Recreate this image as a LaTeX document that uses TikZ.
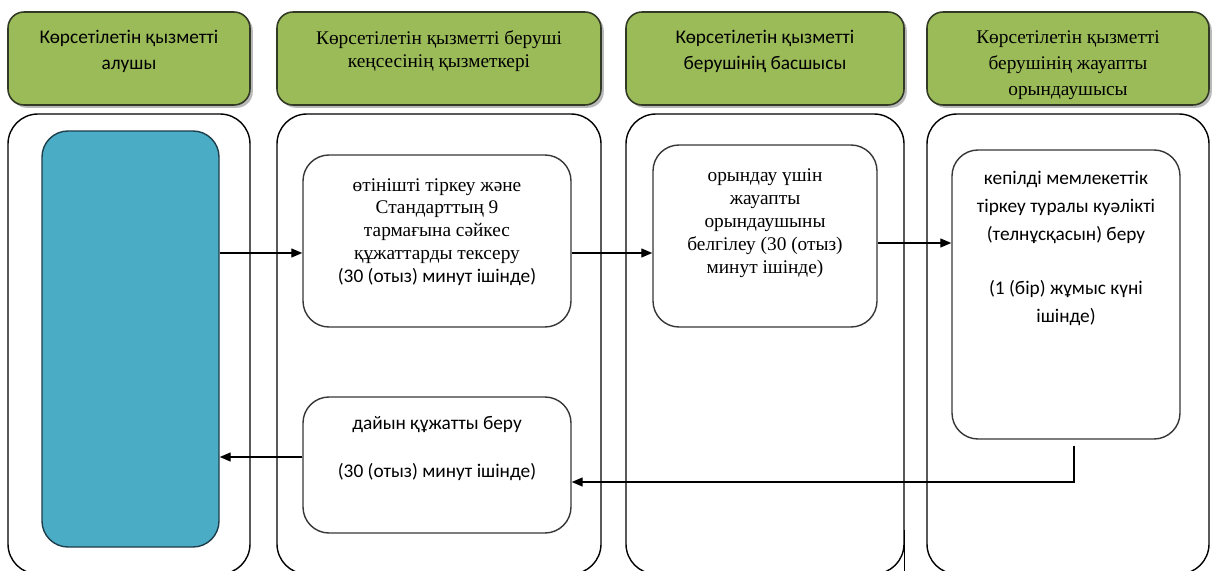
\documentclass[tikz,border=0pt]{standalone}
\usepackage{fontspec}
\setmainfont{Liberation Serif}
\newfontfamily\calfont{Carlito}
\usepackage{tikz}
\usetikzlibrary{arrows.meta, positioning, calc, shadows}
\definecolor{hdrgreen}{RGB}{155, 187, 89}
\definecolor{hdrline}{RGB}{50, 58, 38}
\definecolor{clientblue}{RGB}{75, 172, 198}
\definecolor{clientline}{RGB}{30, 62, 75}
\definecolor{boxline}{RGB}{55, 55, 55}
\newlength{\px}
\setlength{\px}{0.02cm}

\begin{document}
\begin{tikzpicture}[x=0.02cm, y=-0.02cm,
      hdr/.style={rectangle, rounded corners=16\px,
                  fill=hdrgreen, draw=hdrline, line width=0.9pt,
                  drop shadow={shadow xshift=1.6pt,
                  shadow yshift=-1.6pt, opacity=0.55},
                  inner sep=0pt},
      lane/.style={rectangle, rounded corners=30\px,
                   draw=black, line width=0.8pt, inner sep=0pt},
      stepbox/.style={rectangle, rounded corners=26\px, fill=white,
                      draw=boxline, line width=0.8pt, inner sep=0pt},
      txt/.style={align=center, inner sep=0pt, anchor=north},
      sans/.style={font=\calfont\fontsize{11}{#1}\selectfont},
      serif/.style={font=\fontsize{11}{#1}\selectfont},
      flow/.style={-{Triangle[length=0.22cm, width=0.18cm]},
                   line width=0.75pt},
  ]
  \clip (0,0) rectangle (1214,571);

  % lanes
  \node[lane, minimum width=242\px, minimum height=460\px]
      (lane1) at (129, 344) {};
  \node[lane, minimum width=324\px, minimum height=460\px]
      (lane2) at (439, 344) {};
  \node[lane, minimum width=278\px, minimum height=460\px]
      (lane3) at (765, 344) {};
  \node[lane, minimum width=282\px, minimum height=460\px]
      (lane4) at (1068, 344) {};
  \draw[line width=0.8pt] (lane3.east |- 0,530) -- (lane3.east |- 0,576);

  % headers
  \node[hdr, minimum width=242\px, minimum height=93\px]
      (hdr1) at (129, 58.5) {};
  \node[hdr, minimum width=324\px, minimum height=93\px]
      (hdr2) at (439, 58.5) {};
  \node[hdr, minimum width=278\px, minimum height=93\px]
      (hdr3) at (765, 58.5) {};
  \node[hdr, minimum width=282\px, minimum height=93\px]
      (hdr4) at (1068, 58.5) {};
  \node[txt, sans=14.8pt] (hdr1txt) at (129, 30)
      {Көрсетілетін қызметті\\алушы};
  \node[txt, serif=13pt] (hdr2txt) at (439, 30)
      {Көрсетілетін қызметті беруші\\кеңсесінің қызметкері};
  \node[txt, sans=14.8pt] (hdr3txt) at (765, 30)
      {Көрсетілетін қызметті\\берушінің басшысы};
  \node[txt, serif=15pt] (hdr4txt) at (1068, 30)
      {Көрсетілетін қызметті\\берушінің жауапты\\орындаушысы};

  % steps
  \node[stepbox, fill=clientblue, draw=clientline,
        minimum width=177\px, minimum height=416\px]
      (client) at (130.5, 339) {};
  \node[stepbox, minimum width=268\px, minimum height=172\px]
      (regbox) at (437, 241) {};
  \node[stepbox, minimum width=224\px, minimum height=182\px]
      (headbox) at (765, 236) {};
  \node[stepbox, minimum width=228\px, minimum height=289\px]
      (execbox) at (1066, 294.5) {};
  \node[stepbox, minimum width=268\px, minimum height=136\px]
      (issuebox) at (437, 465) {};

  \node[txt, serif=13pt] (regtxt) at (437, 178)
      {өтінішті тіркеу және\\Стандарттың 9\\тармағына сәйкес\\
       құжаттарды тексеру\\{\calfont (30 (отыз) минут ішінде)}};
  \node[txt, serif=13.2pt] (headtxt) at (765, 168)
      {орындау үшін\\жауапты\\орындаушыны\\белгілеу (30 (отыз)\\
       минут ішінде)};
  \node[txt, sans=15.8pt] (exectxt) at (1066, 171)
      {кепілді мемлекеттік\\тіркеу туралы куәлікті\\
       (телнұсқасын) беру\\[15pt](1 (бір) жұмыс күні\\ішінде)};
  \node[txt, sans=13.6pt] (issuetxt) at (437, 416)
      {дайын құжатты беру\\[13.6pt](30 (отыз) минут ішінде)};

  % connectors
  \draw[flow] (client.east |- 0,253) -- (regbox.west |- 0,253);
  \draw[flow] (regbox.east |- 0,253) -- (headbox.west |- 0,253);
  \draw[flow] (headbox.east |- 0,243) -- (execbox.west |- 0,243);
  \draw[flow] ([xshift=8\px, yshift=-6\px]execbox.south)
      |- (issuebox.east |- 0,482);
  \draw[flow] (issuebox.west |- 0,457) -- (client.east |- 0,457);
\end{tikzpicture}
\end{document}
